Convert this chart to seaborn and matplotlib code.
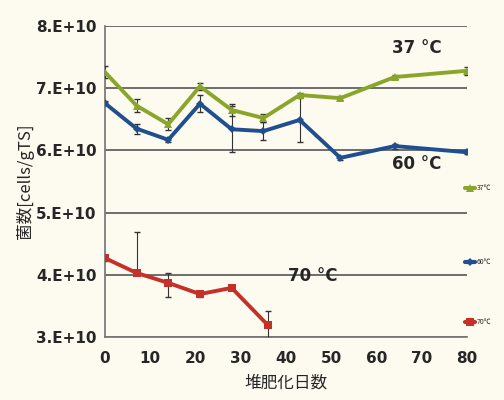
import numpy as np
import pandas as pd
import matplotlib
matplotlib.use("Agg")
import matplotlib.pyplot as plt
import seaborn as sns
from matplotlib.lines import Line2D

days = [0, 7, 14, 21, 28, 35, 43, 52, 64, 80]
days70 = [0, 7, 14, 21, 28, 36]
v37 = [7.26, 6.72, 6.42, 7.03, 6.65, 6.52, 6.89, 6.84, 7.18, 7.28]
v60 = [6.76, 6.35, 6.17, 6.75, 6.34, 6.31, 6.49, 5.88, 6.07, 5.97]
v70 = [4.27, 4.03, 3.87, 3.69, 3.79, 3.19]
e37 = [0.10, 0.10, 0.10, 0.06, 0.10, 0.07, 0.03, 0.03, 0.04, 0.06]
e60 = [0.03, 0.08, 0.03, 0.14, 0.37, 0.15, 0.35, 0.03, 0.04, 0.03]
e70_lo = [0.05, 0.00, 0.22, 0.04, 0.04, 0.20]
e70_hi = [0.05, 0.66, 0.16, 0.04, 0.04, 0.22]
yticks = [3, 4, 5, 6, 7, 8]
ytick_labels = ["3.E+10", "4.E+10", "5.E+10", "6.E+10", "7.E+10", "8.E+10"]
xticks = [0, 10, 20, 30, 40, 50, 60, 70, 80]
labels = ["37℃", "60℃", "70℃"]
annots = ["37 °C", "60 °C", "70 °C"]

sns.set_theme(style="white")
plt.rcParams['font.family'] = ['Noto Sans CJK JP', 'DejaVu Sans']

bg = "#fdfbf0"
c37, c60, c70 = "#8aa62a", "#1f4f8f", "#c33129"

fig = plt.figure(figsize=(5.04, 4.0), dpi=100, facecolor=bg)
ax = fig.add_axes([0.208, 0.1575, 0.719, 0.7775])
ax.set_facecolor(bg)

df37 = pd.DataFrame({"day": days, "val": v37})
df60 = pd.DataFrame({"day": days, "val": v60})
df70 = pd.DataFrame({"day": days70, "val": v70})

sns.lineplot(data=df37, x="day", y="val", ax=ax, color=c37, lw=2.8, marker="^", markersize=6, markeredgewidth=0, zorder=4)
sns.lineplot(data=df60, x="day", y="val", ax=ax, color=c60, lw=2.8, marker="D", markersize=4, markeredgewidth=0, zorder=4)
sns.lineplot(data=df70, x="day", y="val", ax=ax, color=c70, lw=2.8, marker="s", markersize=6, markeredgewidth=0, zorder=4)

ax.errorbar(days, v37, yerr=e37, fmt="none", ecolor="#333333", elinewidth=0.8, capsize=2, zorder=3)
ax.errorbar(days, v60, yerr=e60, fmt="none", ecolor="#333333", elinewidth=0.8, capsize=2, zorder=3)
ax.errorbar(days70, v70, yerr=[e70_lo, e70_hi], fmt="none", ecolor="#333333", elinewidth=0.8, capsize=2, zorder=3)

ax.set_xlim(0, 80)
ax.set_ylim(3, 8)
ax.set_yticks(yticks)
ax.set_yticklabels(ytick_labels, fontsize=11, fontweight="bold", family="DejaVu Sans")
ax.set_xticks(xticks)
ax.set_xticklabels([str(t) for t in xticks], fontsize=11, fontweight="bold", family="DejaVu Sans")
ax.yaxis.grid(True, color="#555555", lw=1.2)
ax.set_axisbelow(True)
for s in ["top", "right"]:
    ax.spines[s].set_visible(False)
for s in ["left", "bottom"]:
    ax.spines[s].set_color("#777777")
ax.tick_params(axis="y", length=4, color="#777777", direction="out", pad=2)
ax.tick_params(axis="x", length=4, color="#777777", direction="in", pad=10)

ax.set_xlabel("堆肥化日数", fontsize=12, labelpad=6)
ax.set_ylabel("菌数[cells/gTS]", fontsize=12, labelpad=1)

ax.text(63.5, 7.57, annots[0], fontsize=12, fontweight="bold", family="DejaVu Sans")
ax.text(63.5, 5.70, annots[1], fontsize=12, fontweight="bold", family="DejaVu Sans")
ax.text(40.5, 3.90, annots[2], fontsize=12, fontweight="bold", family="DejaVu Sans")

for lab, col, mk, ms, yp in zip(labels, [c37, c60, c70], ["^", "D", "s"], [6, 4, 6], [188, 262, 322]):
    h = Line2D([0], [0], color=col, lw=3, marker=mk, markersize=ms, markeredgewidth=0)
    leg = fig.legend([h], [lab], loc="center left", bbox_to_anchor=(462 / 504, 1 - yp / 400),
                     frameon=False, fontsize=5, handlelength=1.5, handletextpad=0.2, borderaxespad=0)

fig.savefig("out.png", dpi=100, facecolor=bg)
